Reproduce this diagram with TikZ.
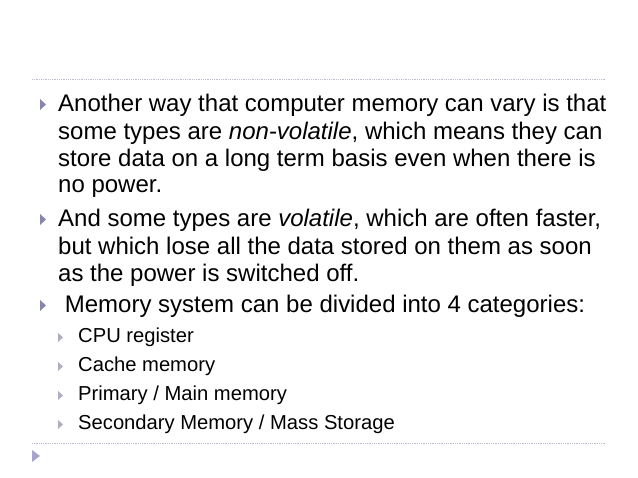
\documentclass[tikz,border=0pt]{standalone}
\usepackage{fontspec}
\setmainfont{Liberation Sans}
\begin{document}
\begin{tikzpicture}[x=1pt,y=-1pt,
  main/.style={anchor=base west,inner sep=0pt,font=\fontsize{24}{26}\selectfont},
  sub/.style={anchor=base west,inner sep=0pt,font=\fontsize{20.2}{22}\selectfont},
  rule/.style={draw=black!20!blue!15!gray!45,densely dotted,line width=0.8pt}]
\useasboundingbox (0,0) rectangle (638,478);
\fill[white] (0,0) rectangle (638,478);
\draw[rule] (32,79) -- (606,79);
\draw[rule] (32,443) -- (606,443);
\newcommand{\mbul}[1]{\fill[blue!20!gray!80] (40,#1-13) -- (46,#1-7.5) -- (40,#1-2) -- cycle;}
\newcommand{\sbul}[1]{\fill[blue!15!gray!55] (58,#1-10) -- (63,#1-5.5) -- (58,#1-1) -- cycle;}
\fill[blue!30!gray!55] (32,450) -- (40,456) -- (32,462) -- cycle;
\mbul{112}\mbul{227}\mbul{313}
\sbul{343}\sbul{372}\sbul{401}\sbul{430}
\node[main] (l1) at (58,112) {Another way that computer memory can vary is that};
\node[main] (l2) at (58,140) {some types are \textit{non-volatile}, which means they can};
\node[main] (l3) at (58,167) {store data on a long term basis even when there is};
\node[main] (l4) at (58,193) {no power.};
\node[main] (l5) at (58,227) {And some types are \textit{volatile}, which are often faster,};
\node[main] (l6) at (58,255) {but which lose all the data stored on them as soon};
\node[main] (l7) at (58,282) {as the power is switched off.};
\node[main] (l8) at (58,313) {\ Memory system can be divided into 4 categories:};
\node[sub] (s1) at (78,343) {CPU register};
\node[sub] (s2) at (78,372) {Cache memory};
\node[sub] (s3) at (78,401) {Primary / Main memory};
\node[sub] (s4) at (78,430) {Secondary Memory / Mass Storage};
\end{tikzpicture}
\end{document}
